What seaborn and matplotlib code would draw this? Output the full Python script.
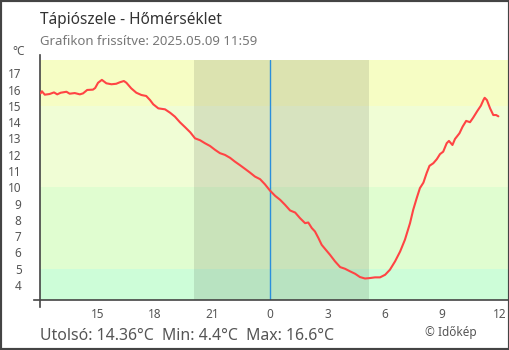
import matplotlib
matplotlib.use("Agg")
import matplotlib.pyplot as plt
import seaborn as sns
import pandas as pd
from matplotlib.patches import Rectangle

# --- data -------------------------------------------------------------
station_title = "Tápiószele - Hőmérséklet"
updated_text = "Grafikon frissítve: 2025.05.09 11:59"

times = [
    "12:01", "12:05", "12:14", "12:29", "12:43", "12:53", "13:04", "13:22",
    "13:32", "13:48", "14:04", "14:14", "14:27", "14:45", "14:52", "15:01",
    "15:13", "15:27", "15:43", "15:58", "16:09", "16:22", "16:30", "16:45",
    "17:01", "17:17", "17:32", "17:44", "17:54", "18:10", "18:31", "18:47",
    "19:02", "19:18", "19:34", "19:50", "20:05", "20:21", "20:36", "20:52",
    "21:08", "21:23", "21:39", "21:55", "22:10", "22:26", "22:42", "22:57",
    "23:13", "23:29", "23:44", "00:00", "00:16", "00:32", "00:47", "01:03",
    "01:19", "01:34", "01:50", "02:00", "02:11", "02:21", "02:32", "02:42",
    "02:53", "03:08", "03:24", "03:40", "03:55", "04:11", "04:27", "04:42",
    "04:58", "05:14", "05:29", "05:45", "06:01", "06:16", "06:32", "06:48",
    "07:03", "07:19", "07:29", "07:40", "07:50", "08:01", "08:11", "08:20",
    "08:32", "08:43", "08:53", "09:03", "09:14", "09:21", "09:32", "09:40",
    "09:54", "10:04", "10:15", "10:27", "10:37", "10:50", "11:01", "11:09",
    "11:13", "11:20", "11:30", "11:40", "11:49", "11:56",
]
temps = [
    15.77, 15.90, 15.69, 15.73, 15.83, 15.71, 15.81, 15.87,
    15.75, 15.79, 15.71, 15.77, 15.98, 16.00, 16.10, 16.42,
    16.60, 16.39, 16.33, 16.36, 16.45, 16.53, 16.42, 16.08,
    15.81, 15.67, 15.61, 15.36, 15.10, 14.85, 14.79, 14.58,
    14.34, 13.99, 13.69, 13.38, 13.01, 12.89, 12.71, 12.54,
    12.30, 12.10, 11.99, 11.81, 11.58, 11.36, 11.13, 10.91,
    10.66, 10.50, 10.19, 9.80, 9.48, 9.23, 8.93, 8.58,
    8.45, 8.11, 7.80, 7.84, 7.50, 7.29, 6.88, 6.47,
    6.21, 5.86, 5.45, 5.10, 5.00, 4.84, 4.69, 4.49,
    4.40, 4.43, 4.47, 4.47, 4.63, 4.94, 5.45, 6.06,
    6.78, 7.80, 8.62, 9.34, 9.95, 10.29, 10.87, 11.32,
    11.48, 11.73, 12.04, 12.19, 12.71, 12.85, 12.60, 12.97,
    13.32, 13.73, 14.08, 14.00, 14.28, 14.69, 15.01, 15.36,
    15.50, 15.36, 14.85, 14.44, 14.44, 14.36,
]

last_temp = 14.36
min_temp = 4.4
max_temp = 16.6

start_hour = 12
hour_ticks = [12, 15, 18, 21, 0, 3, 6, 9, 12]
temp_ticks = [4, 5, 6, 7, 8, 9, 10, 11, 12, 13, 14, 15, 16, 17]

sunset = "20:02"
sunrise = "05:10"
midnight = "00:00"

band_edges = [0, 5, 10, 15, 30]
band_colors = ["#cdfdd8", "#e0fdd0", "#f0fdd5", "#f6fdc4"]


def hours_since_start(hhmm):
    h, m = (int(v) for v in hhmm.split(":"))
    return (h - start_hour) % 24 + m / 60.0


df = pd.DataFrame({"t": [hours_since_start(t) for t in times], "temp": temps})

# tick positions accumulated along the 24-hour window
tick_pos = [0.0]
for prev, cur in zip(hour_ticks[:-1], hour_ticks[1:]):
    tick_pos.append(tick_pos[-1] + (cur - prev) % 24)
tick_labels = [""] + [str(h) for h in hour_ticks[1:]]

# --- style ------------------------------------------------------------
sns.set_theme(style="white")
plt.rcParams["font.family"] = ["Noto Sans", "DejaVu Sans"]

W, H = 510, 350
fig = plt.figure(figsize=(W / 100, H / 100), dpi=100)
ax_left = 40.3
ax = fig.add_axes([ax_left / W, 50 / H, (W - ax_left) / W, 240 / H])

px_per_hour = 19.14
xmax = (W - ax_left) / px_per_hour
ymin, ymax = 3.08, 17.82
ax.set_xlim(0, xmax)
ax.set_ylim(ymin, ymax)

# temperature bands
for lo, hi, c in zip(band_edges[:-1], band_edges[1:], band_colors):
    ax.axhspan(lo, hi, color=c, lw=0, zorder=0)

# night shading and midnight marker
ax.axvspan(hours_since_start(sunset), hours_since_start(sunrise),
           color="black", alpha=0.1, lw=0, zorder=1)
ax.axvline(hours_since_start(midnight), color="#2a8fdc", lw=1.0, zorder=2)

sns.lineplot(data=df, x="t", y="temp", ax=ax, color="#ff4444",
             linewidth=1.5, zorder=3)

ax.set_xlabel("")
ax.set_ylabel("")
ax.set_xticks(tick_pos)
ax.set_xticklabels(tick_labels)
ax.set_yticks(temp_ticks)
ax.set_yticklabels([str(v) for v in temp_ticks])

for side in ("top", "right"):
    ax.spines[side].set_visible(False)
for side in ("left", "bottom"):
    ax.spines[side].set_color("#444444")
    ax.spines[side].set_linewidth(1.2)
ax.spines["left"].set_bounds(ymin - 0.4, ymax + 0.3)
ax.spines["bottom"].set_bounds(-0.32, xmax)

ax.tick_params(axis="both", direction="inout", length=9, width=1.1,
               color="#444444", labelcolor="#555555", labelsize=8.5)
ax.tick_params(axis="y", pad=9)
ax.tick_params(axis="x", pad=1)

# --- texts ------------------------------------------------------------
fig.text(40.5 / W, 1 - 24 / H, station_title, fontsize=11.1, color="#333333",
         va="baseline")
fig.text(40.5 / W, 1 - 45 / H, updated_text, fontsize=9.5, color="#777777",
         va="baseline")
fig.text(12.5 / W, 1 - 55 / H, "°C", fontsize=8.5, color="#555555",
         va="baseline")
summary = f"Utolsó: {last_temp:.2f}°C  Min: {min_temp:.1f}°C  Max: {max_temp:.1f}°C"
fig.text(40.5 / W, 1 - 340 / H, summary, fontsize=11.4, color="#555555",
         va="baseline")
fig.text(425 / W, 1 - 336 / H, "© Időkép", fontsize=8.5, color="#555555",
         va="baseline")

fig.patches.append(Rectangle((0, 0), 1, 1, transform=fig.transFigure,
                             fill=False, edgecolor="#444444", lw=3))

fig.savefig("out.png", dpi=100)
